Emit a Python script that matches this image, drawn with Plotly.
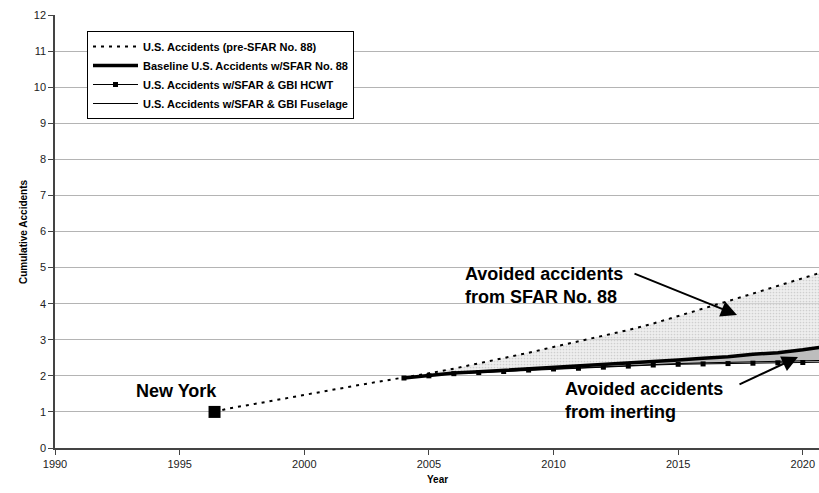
import plotly.graph_objects as go

# ---- data ----
pre_years = [1996.4, 1997, 1998, 1999, 2000, 2001, 2002, 2003, 2004, 2005, 2006, 2007, 2008,
             2009, 2010, 2011, 2012, 2013, 2014, 2015, 2016, 2017, 2018, 2019, 2020, 2021]
pre_sfar = [1.00, 1.10, 1.22, 1.35, 1.48, 1.60, 1.72, 1.84, 1.95, 2.07, 2.20, 2.34, 2.50,
            2.64, 2.80, 2.95, 3.10, 3.27, 3.45, 3.65, 3.86, 4.07, 4.28, 4.49, 4.70, 4.92]

years = [2004, 2005, 2006, 2007, 2008, 2009, 2010, 2011, 2012, 2013, 2014, 2015, 2016,
         2017, 2018, 2019, 2020, 2021]
baseline = [1.94, 2.02, 2.08, 2.11, 2.15, 2.19, 2.22, 2.27, 2.31, 2.36, 2.40, 2.44, 2.49,
            2.53, 2.60, 2.64, 2.72, 2.82]
gbi_hcwt = [1.94, 2.00, 2.06, 2.09, 2.12, 2.16, 2.19, 2.21, 2.24, 2.27, 2.30, 2.32, 2.33,
            2.34, 2.35, 2.36, 2.37, 2.38]
gbi_fuselage = [1.94, 2.01, 2.07, 2.10, 2.13, 2.17, 2.20, 2.23, 2.26, 2.29, 2.32, 2.34, 2.36,
                2.37, 2.39, 2.40, 2.41, 2.43]

x_ticks = [1990, 1995, 2000, 2005, 2010, 2015, 2020]
y_ticks = list(range(0, 13))

names = ["U.S. Accidents (pre-SFAR No. 88)",
         "Baseline U.S. Accidents w/SFAR No. 88",
         "U.S. Accidents w/SFAR & GBI HCWT",
         "U.S. Accidents w/SFAR & GBI Fuselage"]

FONT = "Arial, Liberation Sans, sans-serif"
start = pre_years.index(years[0])

# plot-area geometry in screen px (page margin removed via post_script)
L, T, W, H = 55, 15, 764, 433
FIG_W, FIG_H = 819, 493
X0, X1, Y0, Y1 = 1990, 2020.65, 0, 12


def dx(px):
    return X0 + (px - L) / W * (X1 - X0)


def dy(py):
    return Y1 - (py - T) / H * (Y1 - Y0)


fig = go.Figure()

# light fill: between baseline and pre-SFAR
fig.add_trace(go.Scatter(x=years, y=baseline, mode="lines", line=dict(width=0),
                         showlegend=False, hoverinfo="skip"))
fig.add_trace(go.Scatter(x=pre_years[start:], y=pre_sfar[start:], mode="lines",
                         line=dict(width=0), fill="tonexty",
                         fillcolor="rgba(215,215,215,0.55)",
                         fillpattern=dict(shape=".", bgcolor="rgba(226,226,226,0.6)",
                                          fgcolor="#b0b0b0", size=3, solidity=0.25),
                         showlegend=False, hoverinfo="skip"))
# dark fill: between HCWT and baseline
fig.add_trace(go.Scatter(x=years, y=gbi_hcwt, mode="lines", line=dict(width=0),
                         showlegend=False, hoverinfo="skip"))
fig.add_trace(go.Scatter(x=years, y=baseline, mode="lines", line=dict(width=0),
                         fill="tonexty", fillcolor="#bdbdbd",
                         showlegend=False, hoverinfo="skip"))

# series lines
fig.add_trace(go.Scatter(x=pre_years, y=pre_sfar, mode="lines", name=names[0],
                         line=dict(color="black", width=2, dash="3px,5px")))
fig.add_trace(go.Scatter(x=years, y=baseline, mode="lines", name=names[1],
                         line=dict(color="black", width=3.5)))
fig.add_trace(go.Scatter(x=years, y=gbi_hcwt, mode="lines+markers", name=names[2],
                         line=dict(color="black", width=1),
                         marker=dict(symbol="square", size=5, color="black")))
fig.add_trace(go.Scatter(x=years, y=gbi_fuselage, mode="lines", name=names[3],
                         line=dict(color="black", width=1)))
# New York point
fig.add_trace(go.Scatter(x=[pre_years[0]], y=[pre_sfar[0]], mode="markers",
                         marker=dict(symbol="square", size=12, color="black"),
                         showlegend=False))

fig.update_layout(
    width=FIG_W, height=FIG_H,
    margin=dict(l=L, r=FIG_W - L - W, t=T, b=FIG_H - T - H),
    paper_bgcolor="white", plot_bgcolor="white",
    font=dict(family=FONT, size=11, color="black"),
    showlegend=True,
    legend=dict(x=(87 - L) / W, y=1 - (31 - T) / H, xanchor="left", yanchor="top",
                traceorder="normal",
                bgcolor="white", bordercolor="black", borderwidth=1,
                font=dict(family=FONT, size=11, color="black", weight="bold"),
                itemwidth=45, tracegroupgap=0),
    xaxis=dict(range=[X0, X1], tickvals=x_ticks, ticktext=[str(v) for v in x_ticks],
               showgrid=False, zeroline=False, showline=True, linecolor="#444", linewidth=1.5,
               ticks="outside", ticklen=5, tickcolor="#444", automargin=False,
               tickfont=dict(family=FONT, size=11, color="#222")),
    yaxis=dict(range=[Y0, Y1], tickvals=y_ticks, showgrid=True, gridcolor="#b4b4b4", gridwidth=1,
               zeroline=False, showline=True, linecolor="#444", linewidth=1.5,
               ticks="outside", ticklen=5, tickcolor="#444", automargin=False,
               tickfont=dict(family=FONT, size=11, color="#222")),
)

# axis titles
fig.add_annotation(x=(16 - L) / W, y=0.5, xref="paper", yref="paper",
                   text="<b>Cumulative Accidents</b>", textangle=-90, showarrow=False,
                   font=dict(family=FONT, size=10, color="black"))
fig.add_annotation(x=(437 - L) / W, y=-(487 - (T + H)) / H, xref="paper", yref="paper",
                   text="<b>Year</b>", showarrow=False,
                   font=dict(family=FONT, size=10, color="black"))

# text labels
fig.add_annotation(x=dx(176), y=dy(391), text="<b>New York</b>", showarrow=False,
                   font=dict(family=FONT, size=18, color="black"))
fig.add_annotation(x=dx(463), y=dy(285),
                   text="<b>Avoided accidents<br>from SFAR No. 88</b>", showarrow=False,
                   xanchor="left", yanchor="middle", align="left",
                   font=dict(family=FONT, size=18, color="black"))
fig.add_annotation(x=dx(737), y=dy(315), ax=dx(633), ay=dy(273),
                   axref="x", ayref="y", xref="x", yref="y",
                   text="", showarrow=True, arrowhead=2, arrowsize=1.6, arrowwidth=2,
                   arrowcolor="black")
fig.add_annotation(x=dx(563), y=dy(400),
                   text="<b>Avoided accidents<br>from inerting</b>", showarrow=False,
                   xanchor="left", yanchor="middle", align="left",
                   font=dict(family=FONT, size=18, color="black"))
fig.add_annotation(x=dx(798), y=dy(357), ax=dx(738), ay=dy(385),
                   axref="x", ayref="y", xref="x", yref="y",
                   text="", showarrow=True, arrowhead=2, arrowsize=1.6, arrowwidth=2,
                   arrowcolor="black")

fig.write_html(
    "out.html",
    config={"displayModeBar": False},
    post_script="document.body.style.margin='0';document.body.style.overflow='hidden';",
)
